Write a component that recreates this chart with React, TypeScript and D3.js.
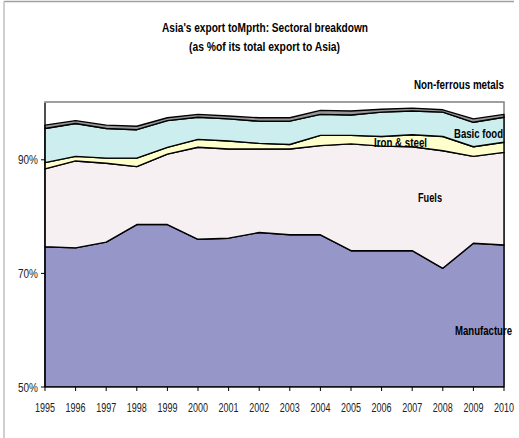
import React from "react";
import * as d3 from "d3";

const years = [1995, 1996, 1997, 1998, 1999, 2000, 2001, 2002, 2003, 2004, 2005, 2006, 2007, 2008, 2009, 2010];
const manufacture = [74.7, 74.5, 75.5, 78.6, 78.6, 76.0, 76.2, 77.2, 76.8, 76.8, 74.0, 74.0, 74.0, 70.9, 75.3, 75.0];
const fuels = [13.7, 15.3, 13.9, 10.2, 12.4, 16.2, 15.7, 14.7, 15.1, 15.7, 18.8, 18.4, 18.3, 20.7, 15.3, 16.3];
const ironSteel = [1.1, 0.8, 0.9, 1.5, 1.2, 1.4, 1.4, 1.0, 0.8, 1.8, 1.5, 1.7, 2.1, 2.5, 1.7, 1.8];
const basicFood = [6.0, 5.8, 5.2, 5.0, 4.7, 3.9, 3.9, 3.9, 4.1, 3.7, 3.6, 4.3, 4.2, 4.3, 4.3, 4.4];
const nonFerrous = [0.6, 0.5, 0.6, 0.6, 0.5, 0.5, 0.5, 0.6, 0.6, 0.7, 0.7, 0.5, 0.5, 0.4, 0.6, 0.5];
const yTicks = [50, 70, 90];
const seriesKeys = ["Manufacture", "Fuels", "Iron & steel", "Basic food", "Non-ferrous metals"];
const seriesColors = ["#9696C8", "#F6F0F3", "#FFFFCC", "#CCEEEE", "#969696"];

const W = 519;
const H = 438;
const L = 45, R = 504, T = 103, B = 387;
const FONT = "'Liberation Sans Narrow', 'Arial Narrow', 'Liberation Sans', Arial, sans-serif";

export default function App() {
  const rows = years.map((y, i) => ({
    year: y,
    "Manufacture": manufacture[i],
    "Fuels": fuels[i],
    "Iron & steel": ironSteel[i],
    "Basic food": basicFood[i],
    "Non-ferrous metals": nonFerrous[i],
  }));
  const stack = d3.stack<any>().keys(seriesKeys);
  const layers = stack(rows);
  const x = d3.scaleLinear().domain([1995, 2010]).range([L, R]);
  const y = d3.scaleLinear().domain([50, 100]).range([B, T]);
  const area = d3
    .area<any>()
    .x((d) => x(d.data.year))
    .y0((d) => y(Math.max(d[0], 50)))
    .y1((d) => y(d[1]));

  const label = (txt: string, xx: number, yy: number, len: number, size = 12.5) => (
    <text
      x={xx}
      y={yy}
      fontFamily={FONT}
      fontWeight="bold"
      fontSize={size}
      textLength={len}
      lengthAdjust="spacingAndGlyphs"
      fill="#000"
    >
      {txt}
    </text>
  );

  return (
    <svg
      width={W}
      height={H}
      style={{ position: "absolute", left: 0, top: 0, background: "#fff" }}
    >
      <defs>
        <clipPath id="plotclip">
          <rect x={L - 2} y={T} width={R - L + 4} height={B - T} />
        </clipPath>
      </defs>
      {/* outer chart border */}
      <line x1={4} y1={1.5} x2={514} y2={1.5} stroke="#A0A0A0" strokeWidth={1.5} />
      <line x1={4} y1={1.5} x2={4} y2={H} stroke="#C0C0C0" strokeWidth={1.5} />

      {/* title */}
      <text x={265} y={32} fontFamily={FONT} fontWeight="bold" fontSize={13.5} textAnchor="middle" textLength={206} lengthAdjust="spacingAndGlyphs">
        Asia's export toMprth: Sectoral breakdown
      </text>
      <text x={264.5} y={51} fontFamily={FONT} fontWeight="bold" fontSize={13.5} textAnchor="middle" textLength={151} lengthAdjust="spacingAndGlyphs">
        (as %of its total export to Asia)
      </text>

      {/* plot area border */}
      <rect x={L} y={T - 1} width={R - L} height={B - T + 1} fill="#fff" stroke="#808080" strokeWidth={1.5} />

      <g clipPath="url(#plotclip)">
        {layers.map((layer, i) => (
          <path
            key={layer.key}
            d={area(layer as any) || ""}
            fill={seriesColors[i]}
            stroke="#000"
            strokeWidth={1.4}
            strokeLinejoin="round"
          />
        ))}
      </g>

      {/* axes */}
      <line x1={L} y1={T} x2={L} y2={B} stroke="#000" strokeWidth={1} />
      <line x1={L} y1={B} x2={R} y2={B} stroke="#000" strokeWidth={1} />
      {yTicks.map((t) => (
        <g key={t}>
          <line x1={L - 4} x2={L} y1={y(t)} y2={y(t)} stroke="#000" />
          <text x={L - 7} y={y(t) + 4.5} fontFamily={FONT} fontSize={12.5} textAnchor="end" textLength={20} lengthAdjust="spacingAndGlyphs" fill="#222">
            {t}%
          </text>
        </g>
      ))}
      {years.map((yr) => (
        <g key={yr}>
          <line x1={x(yr)} x2={x(yr)} y1={B} y2={B + 4} stroke="#000" />
          <text x={x(yr)} y={412} fontFamily={FONT} fontSize={12.5} textAnchor="middle" textLength={20} lengthAdjust="spacingAndGlyphs" fill="#222">
            {yr}
          </text>
        </g>
      ))}

      {/* series labels */}
      {label("Non-ferrous metals", 414, 89, 90)}
      {label("Basic food", 454, 138, 49)}
      {label("Iron & steel", 374, 147, 53)}
      {label("Fuels", 418, 202, 24)}
      {label("Manufacture", 455, 335, 57)}
    </svg>
  );
}
